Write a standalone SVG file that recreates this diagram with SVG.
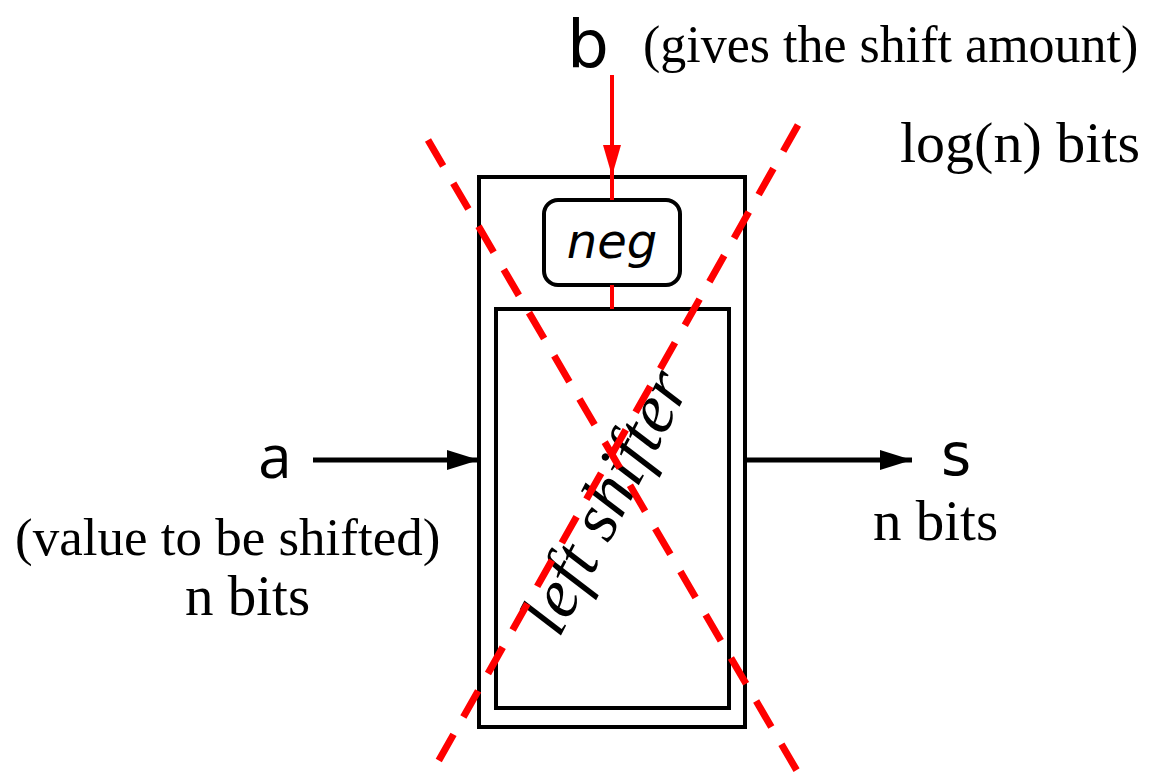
<svg xmlns="http://www.w3.org/2000/svg" width="1151" height="776" viewBox="0 0 1151 776">
  <style>
    .box { fill: none; stroke: #000; stroke-width: 4; }
    .wire { stroke: #000; stroke-width: 5; fill: none; }
    .red { stroke: #ff0000; stroke-width: 4; fill: none; }
    .cross { stroke: #ff0000; stroke-width: 7; fill: none; stroke-dasharray: 30 20; }
    .serif { font-family: "Liberation Serif", "Times New Roman", serif; fill: #000; }
    .sym { font-family: "DejaVu Sans", sans-serif; fill: #000; }
    .hand { font-family: "Open Sans", "DejaVu Sans", sans-serif; font-weight: 400; fill: #000; }
  </style>
  <defs>
    <marker id="arrBlack" markerUnits="userSpaceOnUse" markerWidth="34" markerHeight="22" refX="32" refY="11" orient="auto">
      <path d="M0,1 L32,11 L0,21 Z" fill="#000"/>
    </marker>
    <marker id="arrRed" markerUnits="userSpaceOnUse" markerWidth="32" markerHeight="20" refX="31" refY="9" orient="auto">
      <path d="M0,0 L31,9 L0,18 Z" fill="#ff0000"/>
    </marker>
  </defs>
  <rect width="1151" height="776" fill="#fff"/>

  <!-- outer unit -->
  <g id="unit">
    <rect class="box" x="479" y="177" width="266" height="550"/>
  </g>

  <!-- negation block -->
  <g id="neg">
    <rect class="box" x="544" y="200" width="136" height="85" rx="14"/>
    <text class="sym" x="612" y="258" font-size="48" font-style="italic" text-anchor="middle">neg</text>
  </g>

  <!-- inner shifter -->
  <g id="shifter">
    <rect class="box" x="496" y="309" width="233" height="399"/>
    <text class="serif" x="625" y="512" font-size="70" font-style="italic" text-anchor="middle" transform="rotate(-62.6 625 512)">left shifter</text>
  </g>

  <!-- connectors -->
  <g id="connectors">
    <line class="red" x1="612" y1="75" x2="612" y2="176" marker-end="url(#arrRed)"/>
    <line class="red" x1="612" y1="176" x2="612" y2="200"/>
    <line class="red" x1="612" y1="285" x2="612" y2="309"/>
    <line class="wire" x1="313" y1="460" x2="479" y2="460" marker-end="url(#arrBlack)"/>
    <line class="wire" x1="745" y1="460" x2="912" y2="460" marker-end="url(#arrBlack)"/>
  </g>

  <!-- dashed cross-out -->
  <g id="crossout">
    <line class="cross" x1="428" y1="140" x2="800" y2="776"/>
    <line class="cross" x1="798" y1="125" x2="430" y2="776"/>
  </g>

  <!-- labels -->
  <g id="labels">
    <text class="sym" x="588" y="67" font-size="66" text-anchor="middle">b</text>
    <text class="serif" x="643" y="62" font-size="52">(gives the shift amount)</text>
    <text class="serif" x="900" y="162" font-size="58">log(n) bits</text>
    <text class="hand" x="275" y="478" font-size="60" text-anchor="middle">a</text>
    <text class="serif" x="15" y="555" font-size="53">(value to be shifted)</text>
    <text class="serif" x="185" y="615" font-size="57">n bits</text>
    <text class="sym" x="956" y="475" font-size="58" text-anchor="middle">s</text>
    <text class="serif" x="873" y="540" font-size="57">n bits</text>
  </g>
</svg>
